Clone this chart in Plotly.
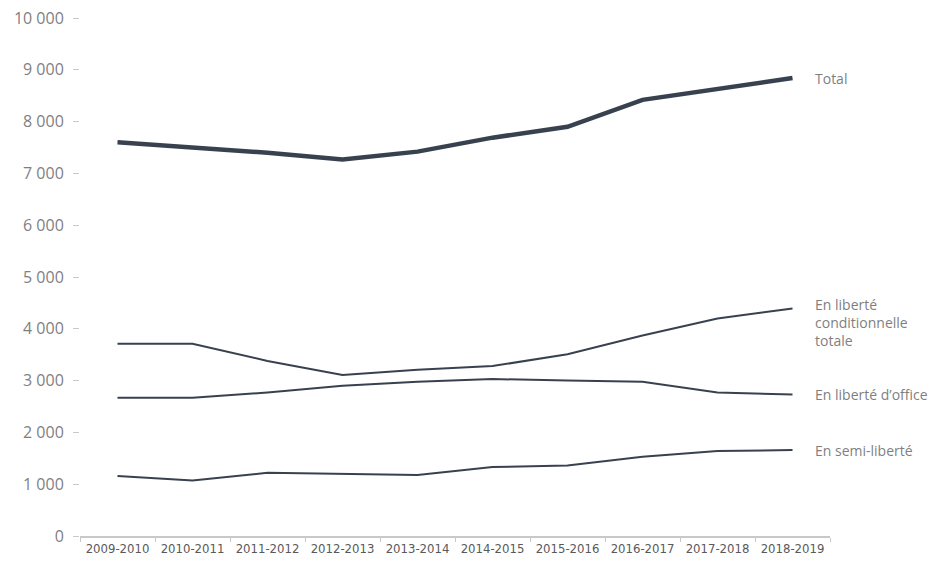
"""Libérations des détenus, 2009-2010 à 2018-2019"""

import plotly.graph_objects as go

years = [
    "2009-2010", "2010-2011", "2011-2012", "2012-2013", "2013-2014",
    "2014-2015", "2015-2016", "2016-2017", "2017-2018", "2018-2019",
]
total = [7600, 7500, 7400, 7270, 7420, 7690, 7900, 8420, 8640, 8840]
conditionnelle = [3710, 3710, 3380, 3110, 3210, 3280, 3510, 3870, 4200, 4390]
office = [2670, 2670, 2770, 2900, 2980, 3030, 3000, 2980, 2770, 2730]
semi = [1160, 1070, 1220, 1200, 1180, 1330, 1360, 1530, 1640, 1660]

series_names = [
    "Total",
    "En liberté<br>conditionnelle<br>totale",
    "En liberté d’office",
    "En semi-liberté",
]

LINE = "#38424f"
GREY = "#7f7f7f"

fig = go.Figure()

for name, vals, width, yshift in [
    (series_names[0], total, 4.5, 0),
    (series_names[1], conditionnelle, 2, -14),
    (series_names[2], office, 2, 0),
    (series_names[3], semi, 2, 0),
]:
    fig.add_trace(go.Scatter(
        x=years, y=vals, mode="lines", name=name.replace("<br>", " "),
        line=dict(color=LINE, width=width), showlegend=False,
    ))
    fig.add_annotation(
        x=years[-1], y=vals[-1], text=name, showarrow=False,
        xanchor="left", yanchor="middle", align="left", xshift=20, yshift=yshift,
        font=dict(family="Open Sans, Noto Sans, sans-serif", size=14, color=GREY),
    )

# the page adds an 8px body margin, so margins are offset by 8px
fig.update_layout(
    width=943, height=573,
    margin=dict(l=72, r=121, t=10, b=45),
    paper_bgcolor="white", plot_bgcolor="white",
    separators=", ",
    xaxis=dict(
        type="category", showgrid=False, showline=True, linecolor="#c8c8c8",
        linewidth=1.5, ticks="outside", tickson="boundaries", ticklen=4,
        tickcolor="#c8c8c8", automargin=False,
        tickfont=dict(family="DejaVu Sans Condensed, Liberation Sans Narrow, sans-serif",
                      size=13, color="#595959"),
        range=[-0.5, 9.5],
    ),
    yaxis=dict(
        range=[0, 10000], dtick=1000, tickformat=",d", showgrid=False,
        zeroline=False, showline=False, ticks="outside", ticklen=6,
        tickcolor="#c8c8c8", automargin=False, ticklabeloverflow="allow",
        ticklabelstandoff=6,
        tickfont=dict(family="Open Sans, Noto Sans, sans-serif", size=16, color=GREY),
    ),
)

fig.write_html("out.html")
